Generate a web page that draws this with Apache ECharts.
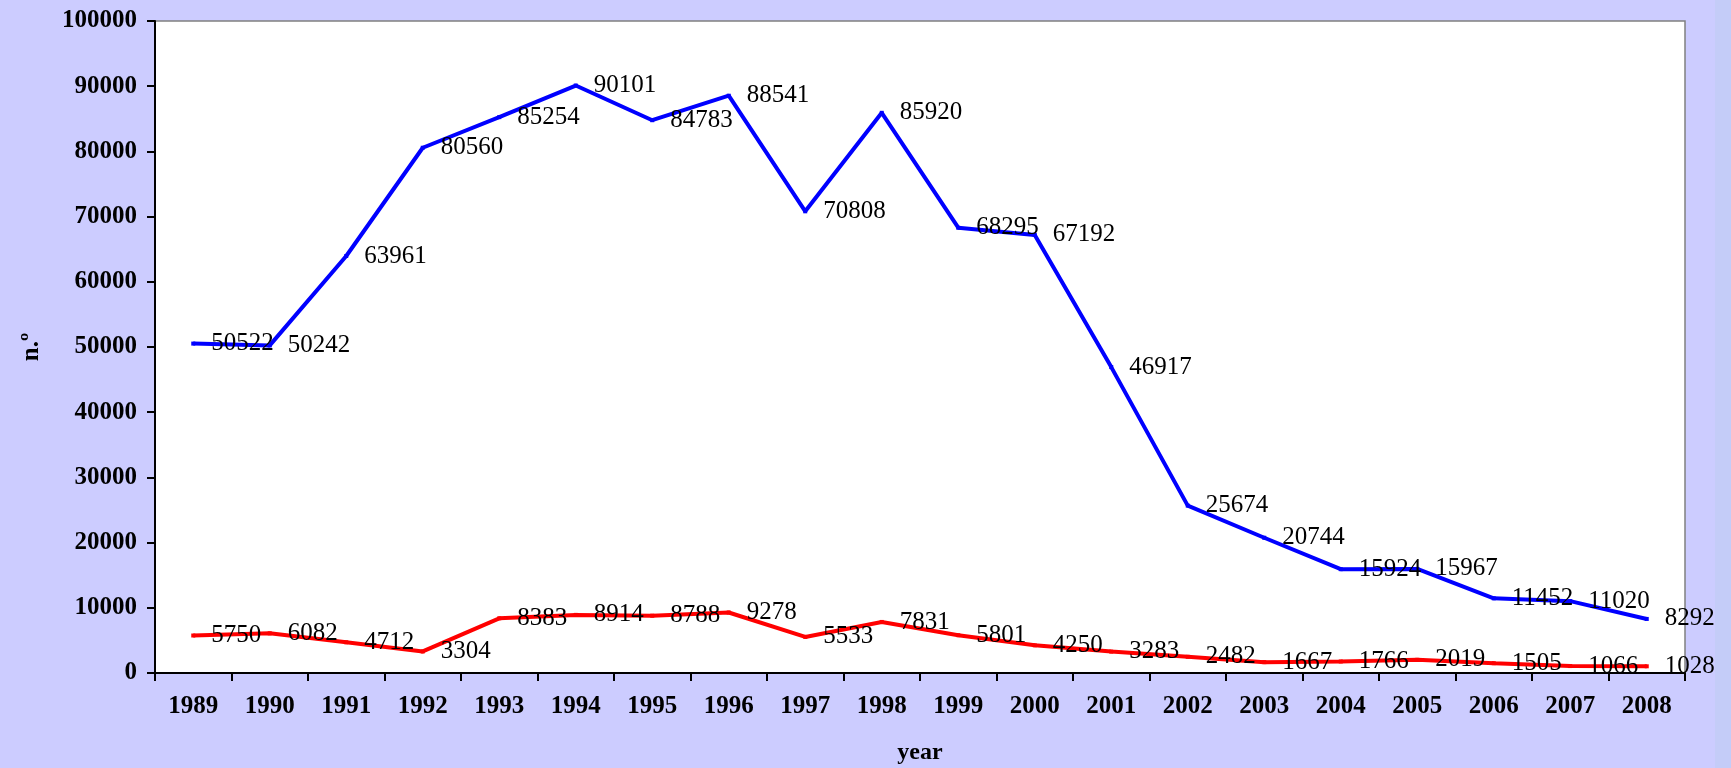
<!DOCTYPE html>
<html>
<head>
<meta charset="utf-8">
<script src="https://cdn.jsdelivr.net/npm/echarts@6/dist/echarts.min.js"></script>
<style>
  html, body { margin: 0; padding: 0; background: #CCCCFF; }
  #chart { width: 1731px; height: 768px; }
</style>
</head>
<body>
<div id="chart"></div>
<script>
// chart values
var years = ['1989', '1990', '1991', '1992', '1993', '1994', '1995', '1996', '1997', '1998',
             '1999', '2000', '2001', '2002', '2003', '2004', '2005', '2006', '2007', '2008'];
var blueValues = [50522, 50242, 63961, 80560, 85254, 90101, 84783, 88541, 70808, 85920,
                  68295, 67192, 46917, 25674, 20744, 15924, 15967, 11452, 11020, 8292];
var redValues = [5750, 6082, 4712, 3304, 8383, 8914, 8788, 9278, 5533, 7831,
                 5801, 4250, 3283, 2482, 1667, 1766, 2019, 1505, 1066, 1028];

var serif = '"Liberation Serif", "Times New Roman", serif';

var chart = echarts.init(document.getElementById('chart'));

function lineSeries(name, data, color) {
    return {
        name: name,
        type: 'line',
        data: data,
        symbol: 'rect',
        symbolSize: 4,
        lineStyle: { color: color, width: 4 },
        itemStyle: { color: color },
        label: {
            show: true,
            position: 'right',
            distance: 16,
            color: '#000',
            fontFamily: serif,
            fontSize: 25
        },
        animation: false
    };
}

var option = {
    backgroundColor: '#CCCCFF',
    grid: {
        left: 155,
        top: 21,
        right: 46,
        bottom: 95,
        outerBoundsMode: 'none',
        containLabel: false,
        show: true,
        backgroundColor: '#FFFFFF',
        borderColor: '#808080',
        borderWidth: 1.5
    },
    graphic: [{
        type: 'rect',
        right: 0,
        top: 0,
        shape: { width: 16, height: 768 },
        style: { fill: '#C4CCF8' },
        silent: true
    }],
    xAxis: {
        type: 'category',
        data: years,
        boundaryGap: true,
        name: 'year',
        nameLocation: 'middle',
        nameGap: 68,
        nameTextStyle: { fontFamily: serif, fontWeight: 'bold', fontSize: 24, color: '#000' },
        axisLine: { lineStyle: { color: '#000', width: 2 } },
        axisTick: { show: true, length: 8, lineStyle: { color: '#000', width: 2 } },
        axisLabel: {
            interval: 0,
            margin: 21,
            color: '#000',
            fontFamily: serif,
            fontWeight: 'bold',
            fontSize: 25
        },
        splitLine: { show: false }
    },
    yAxis: {
        type: 'value',
        min: 0,
        max: 100000,
        interval: 10000,
        name: 'n.º',
        nameLocation: 'middle',
        nameRotate: 90,
        nameGap: 111,
        nameTextStyle: { fontFamily: serif, fontWeight: 'bold', fontSize: 25, color: '#000' },
        axisLine: { show: true, lineStyle: { color: '#000', width: 2 } },
        axisTick: { show: true, length: 8, lineStyle: { color: '#000', width: 2 } },
        axisLabel: {
            margin: 18,
            color: '#000',
            fontFamily: serif,
            fontWeight: 'bold',
            fontSize: 25,
            formatter: function (v) { return String(v); }
        },
        splitLine: { show: false }
    },
    series: [
        lineSeries('blue', blueValues, '#0000FF'),
        lineSeries('red', redValues, '#FF0000')
    ]
};

chart.setOption(option);
</script>
</body>
</html>
